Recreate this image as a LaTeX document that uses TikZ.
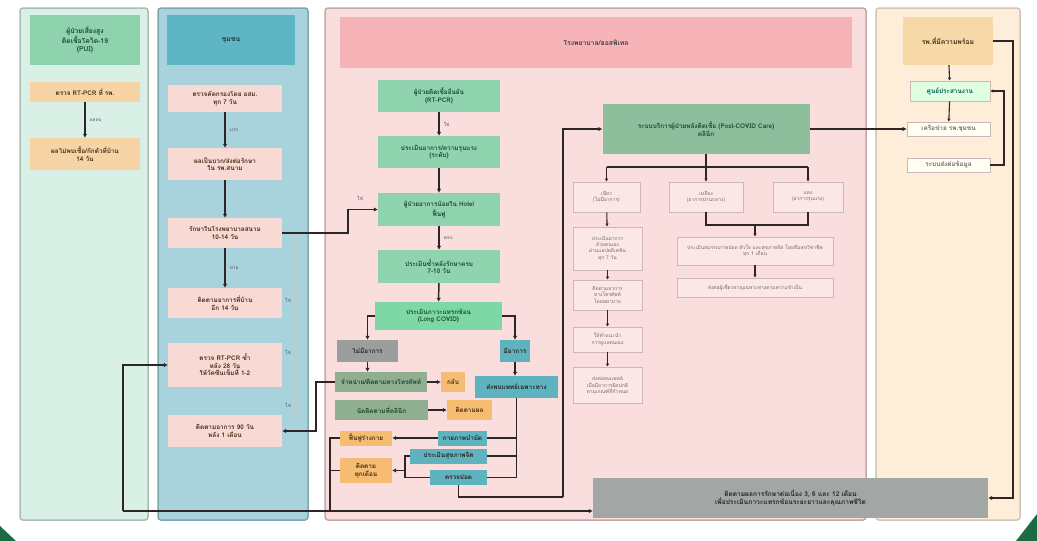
\documentclass[tikz,border=0pt]{standalone}
\usepackage{fontspec}
\newfontfamily\thai[Script=Thai]{Loma}
\usetikzlibrary{arrows.meta}
\definecolor{lnc}{HTML}{2E2626}
\definecolor{p1bg}{HTML}{D8F0E6}
\definecolor{p1bd}{HTML}{A9BDB2}
\definecolor{p2bg}{HTML}{A9D3DC}
\definecolor{p2bd}{HTML}{7FA7AE}
\definecolor{p3bg}{HTML}{FADDDD}
\definecolor{p3bd}{HTML}{C2A9A9}
\definecolor{p4bg}{HTML}{FDEDD9}
\definecolor{p4bd}{HTML}{CFC6B8}
\definecolor{hgreen}{HTML}{8FD3AE}
\definecolor{hteal}{HTML}{5EB5C4}
\definecolor{hpink}{HTML}{F7B4B8}
\definecolor{horange}{HTML}{F6D9A7}
\definecolor{obox}{HTML}{F7D4A5}
\definecolor{pbox}{HTML}{F8D9D4}
\definecolor{gbox}{HTML}{8FD4AE}
\definecolor{g5c}{HTML}{7ED8A6}
\definecolor{bbox}{HTML}{8EBF9D}
\definecolor{graybox}{HTML}{9A9F9C}
\definecolor{ggbox}{HTML}{90AE90}
\definecolor{tealbox}{HTML}{5FB3BE}
\definecolor{osmall}{HTML}{F5BC72}
\definecolor{lfill}{HTML}{FBE7E7}
\definecolor{lbd}{HTML}{CDB8B8}
\definecolor{ltxt}{HTML}{7A6A6A}
\definecolor{dkgreen}{HTML}{174A30}
\definecolor{dkbrown}{HTML}{4A2E18}
\definecolor{botgray}{HTML}{A2A6A5}
\definecolor{cornergreen}{HTML}{1D6B45}
\tikzset{
  nd/.style={inner sep=1pt, align=center, font=\thai\bfseries\fontsize{6.4}{7.6}\selectfont},
  hd/.style={nd, font=\thai\bfseries\fontsize{6.8}{8.2}\selectfont},
  wh/.style 2 args={minimum width=#1pt, minimum height=#2pt},
  obx/.style={nd, fill=obox, text=dkbrown},
  pbx/.style={nd, fill=pbox, text=dkbrown},
  gbx/.style={nd, fill=gbox, text=dkgreen},
  lbx/.style={nd, fill=lfill, draw=lbd, line width=0.8pt, text=ltxt, font=\thai\fontsize{5}{6.2}\selectfont},
  ln/.style={draw=lnc, line width=1.5pt},
  arr/.style={ln, -{Latex[length=4pt,width=4.5pt]}},
  sarr/.style={draw=lnc, line width=1.1pt, -{Latex[length=3pt,width=3.5pt]}},
  pale/.style={draw=gray!45, line width=1pt},
  lbl/.style={font=\thai\fontsize{4.8}{5}\selectfont, text=gray!70!black, inner sep=1pt},
  panel/.style={line width=1.5pt, rounded corners=3pt}
}
\begin{document}
\begin{tikzpicture}[x=1pt,y=-1pt]
\useasboundingbox (0,0) rectangle (1037,541);
\fill[white] (0,0) rectangle (1037,541);
% panels
\draw[panel, fill=p1bg, draw=p1bd] (20,8) rectangle (148,520);
\draw[panel, fill=p2bg, draw=p2bd] (158,8) rectangle (308,520);
\draw[panel, fill=p3bg, draw=p3bd] (325,8) rectangle (866,520);
\draw[panel, fill=p4bg, draw=p4bd] (876,8) rectangle (1020,520);
% corners
\fill[cornergreen] (0,526) -- (16,541) -- (0,541) -- cycle;
\fill[cornergreen] (1037,514) -- (1037,541) -- (1016,541) -- cycle;

% column 1
\node[hd, fill=hgreen, text=dkgreen, wh={110}{50}] (h1) at (85,40) {ผู้ป่วยเสี่ยงสูง\\ติดเชื้อโควิด-19\\(PUI)};
\node[obx, wh={110}{20}] (o1) at (85,92) {ตรวจ RT-PCR ที่ รพ.};
\node[obx, wh={110}{32}] (o2) at (85,154) {ผลไม่พบเชื้อ/กักตัวที่บ้าน\\14 วัน};
\draw[arr] (o1) -- node[lbl, right=3pt] {ผลลบ} (o2);

% column 2
\node[hd, fill=hteal, text=black!80, wh={128}{50}] (h2) at (231,40) {ชุมชน};
\node[pbx, wh={114}{27}] (b1) at (225,98.5) {ตรวจคัดกรองโดย อสม.\\ทุก 7 วัน};
\node[pbx, wh={114}{32}] (b2) at (225,164) {ผลเป็นบวก/ส่งต่อรักษา\\ใน รพ.สนาม};
\node[pbx, wh={114}{30}] (b3) at (225,233) {รักษาในโรงพยาบาลสนาม\\10-14 วัน};
\node[pbx, wh={114}{30}] (b4) at (225,303) {ติดตามอาการที่บ้าน\\อีก 14 วัน};
\node[pbx, wh={114}{44}] (b5) at (225,365) {ตรวจ RT-PCR ซ้ำ\\หลัง 28 วัน\\ให้วัคซีนเข็มที่ 1-2};
\node[pbx, wh={114}{32}] (b6) at (225,431) {ติดตามอาการ 90 วัน\\หลัง 1 เดือน};
\draw[arr] (b1) -- node[lbl, right=3pt] {บวก} (b2);
\draw[arr] (b2) -- (b3);
\draw[arr] (b3) -- node[lbl, right=3pt] {หาย} (b4);
\draw[pale] (296,233) -- (296,420);
\node[lbl] (l1) at (288,300) {ใช่};
\node[lbl] (l2) at (288,352) {ใช่};
\node[lbl] (l3) at (288,405) {ใช่};

% column 3
\node[hd, fill=hpink, text=black!75, wh={512}{51}] (h3) at (596,42.5) {โรงพยาบาล/ฮอสพิเทล};
\node[gbx, wh={122}{32}] (g1) at (439,96) {ผู้ป่วยติดเชื้อยืนยัน\\(RT-PCR)};
\node[gbx, wh={122}{32}] (g2) at (439,152) {ประเมินอาการ/ความรุนแรง\\(ระดับ)};
\node[gbx, wh={122}{33}] (g3) at (439,209.5) {ผู้ป่วยอาการน้อยใน Hotel\\ฟื้นฟู};
\node[gbx, wh={122}{33}] (g4) at (439,266.5) {ประเมินซ้ำหลังรักษาครบ\\7-10 วัน};
\node[nd, fill=g5c, text=dkgreen, wh={127}{28}] (g5) at (438.5,316) {ประเมินภาวะแทรกซ้อน\\(Long COVID)};
\draw[arr] (g1) -- node[lbl, right=3pt] {ใช่} (g2);
\draw[arr] (g2) -- (g3);
\draw[arr] (g3) -- node[lbl, right=3pt] {ครบ} (g4);
\draw[arr] (g4) -- (g5);
\coordinate (k) at (348,220);
\draw[arr] (b3.east) -| (k) |- (g3.west);
\node[lbl] (l4) at (360,198) {ใช่};

\node[nd, fill=graybox, text=black!85, wh={61}{22}] (gray1) at (367.5,351) {ไม่มีอาการ};
\node[nd, fill=tealbox, text=black!85, wh={30}{22}] (teal1) at (515,351) {มีอาการ};
\draw[arr] (g5.west) -| (gray1.north);
\draw[arr] (g5.east) -| (teal1.north);
\node[nd, fill=ggbox, text=dkgreen, wh={92}{20}] (gg1) at (381,382) {จำหน่าย/ติดตามทางโทรศัพท์};
\node[nd, fill=ggbox, text=dkgreen, wh={93}{20}] (gg2) at (381.5,410) {นัดติดตามที่คลินิก};
\node[nd, fill=osmall, text=dkbrown, wh={24}{20}] (os1) at (453,382) {กลับ};
\node[nd, fill=osmall, text=dkbrown, wh={45}{20}] (os2) at (469.5,410) {ติดตามผล};
\node[nd, fill=tealbox, text=black!85, wh={83}{22}] (tb) at (516.5,387) {ส่งพบแพทย์เฉพาะทาง};
\draw[arr] (gray1.south) -- (gray1.south |- gg1.north);
\draw[arr] (teal1.south) -- (teal1.south |- tb.north);
\draw[arr] (gg1) -- (os1);
\draw[arr] (gg2) -- (os2);
\node[nd, fill=osmall, text=dkbrown, wh={52}{15}] (or1) at (366,438) {ฟื้นฟูร่างกาย};
\node[nd, fill=osmall, text=dkbrown, wh={52}{25}] (or2) at (366,470.5) {ติดตาม\\ทุกเดือน};
\node[nd, fill=tealbox, text=black!85, wh={49}{15}] (ts1) at (462.5,438) {กายภาพบำบัด};
\node[nd, fill=tealbox, text=black!85, wh={77}{15}] (ts2) at (448.5,456) {ประเมินสุขภาพจิต};
\node[nd, fill=tealbox, text=black!85, wh={57}{15}] (ts3) at (458.5,477.5) {ตรวจปอด};
\coordinate (tv) at (516.5,478);
\draw[ln] (tb.south) -- (tv);
\draw[ln] (ts1.east) -- (ts1.east -| tv);
\draw[ln] (ts2.east) -- (ts2.east -| tv);
\draw[ln] (ts3.east) -- (ts3.east -| tv);
\draw[arr] (ts1.west) -- (ts1.west -| or1.east);
\coordinate (br) at (405,456);
\draw[ln] (ts2.west) -- (br) |- (ts3.west);
\draw[arr] (br |- or2.east) -- (or2.east);
\coordinate (j2) at (330,511);
\draw[ln] (or1.west) -| (j2);
\draw[ln] (or2.west) -- (or2.west -| j2);
\coordinate (k2) at (316,382);
\draw[arr] (gg1.west) -- (k2) |- (b6.east);

% right part of column 3
\node[nd, fill=bbox, text=dkgreen, wh={207}{50}] (BB) at (706,129) {ระบบบริการผู้ป่วยหลังติดเชื้อ (Post-COVID Care)\\คลินิก};
\node[lbx, wh={67}{30}] (t1) at (606.5,197) {เขียว\\(ไม่มีอาการ)};
\node[lbx, wh={74}{30}] (t2) at (706,197) {เหลือง\\(อาการปานกลาง)};
\node[lbx, wh={70}{30}] (t3) at (808,197) {แดง\\(อาการรุนแรง)};
\coordinate (sp) at (706,167);
\draw[ln] (BB.south) -- (sp);
\draw[ln] (t1.north |- sp) -- (t3.north |- sp);
\draw[sarr] (t1.north |- sp) -- (t1.north);
\draw[sarr] (sp) -- (t2.north);
\draw[sarr] (t3.north |- sp) -- (t3.north);
\node[lbx, wh={69}{43}] (s1) at (607.5,248.5) {ประเมินอาการ\\ด้วยตนเอง\\ผ่านแอปพลิเคชัน\\ทุก 7 วัน};
\node[lbx, wh={69}{30}] (s2) at (607.5,295) {ติดตามอาการ\\ทางโทรศัพท์\\โดยพยาบาล};
\node[lbx, wh={69}{25}] (s3) at (607.5,339.5) {ให้คำแนะนำ\\การดูแลตนเอง};
\node[lbx, wh={69}{36}] (s4) at (607.5,385) {ส่งต่อพบแพทย์\\เมื่อมีอาการผิดปกติ\\ตามเกณฑ์ที่กำหนด};
\draw[sarr] (t1) -- (s1);
\draw[sarr] (s1) -- (s2);
\draw[sarr] (s2) -- (s3);
\draw[sarr] (s3) -- (s4);
\node[lbx, wh={156}{28}] (m1) at (755,251) {ประเมินสมรรถภาพปอด หัวใจ และสุขภาพจิต โดยทีมสหวิชาชีพ\\ทุก 1 เดือน};
\node[lbx, wh={156}{19}] (m2) at (755,287.5) {ส่งต่อผู้เชี่ยวชาญเฉพาะทางตามความจำเป็น};
\coordinate (mg) at (755,225);
\draw[ln] (t2.south) |- (t3.south |- mg) -- (t3.south);
\draw[sarr] (mg) -- (m1.north);
\draw[sarr] (m1) -- (m2);

% column 4
\node[hd, fill=horange, text=dkbrown, wh={90}{48}] (h4) at (948,41) {รพ.ที่มีความพร้อม};
\node[nd, fill=green!12!white, draw=lbd, line width=0.6pt, text=teal!70!black, wh={80}{20}] (c1) at (950,91) {ศูนย์ประสานงาน};
\node[nd, fill=white!95!yellow, draw=lbd, line width=0.6pt, text=ltxt, wh={83}{14}] (c2) at (948.5,129) {เครือข่าย รพ.ชุมชน};
\node[nd, fill=white!95!yellow, draw=lbd, line width=0.8pt, text=ltxt, wh={83}{14}] (c3) at (948.5,165) {ระบบส่งต่อข้อมูล};
\draw[sarr] (h4) -- (c1);
\draw[sarr] (c1) -- (c2);
\coordinate (j5) at (1004,165);
\draw[sarr] (c3.east) -- (j5) |- (c1.east);

% bottom box
\node[nd, fill=botgray, text=black!85, font=\thai\bfseries\fontsize{6.6}{8}\selectfont, wh={395}{40}] (bot) at (790.5,498) {ติดตามผลการรักษาต่อเนื่อง 3, 6 และ 12 เดือน\\เพื่อประเมินภาวะแทรกซ้อนระยะยาวและคุณภาพชีวิต};

% long connectors
\coordinate (j1) at (123,511);
\draw[arr] (j1) |- (b5.west);
\draw[arr] (j1) -- (j1 -| bot.west);
\coordinate (j3) at (563,497);
\draw[ln] (ts3.south) |- (j3);
\draw[arr] (j3) |- (BB.west);
\draw[arr] (BB.east) -- (BB.east -| c2.west);
\coordinate (j4) at (1013,41);
\draw[arr] (h4.east) -- (j4) |- (bot.east);
\end{tikzpicture}
\end{document}
